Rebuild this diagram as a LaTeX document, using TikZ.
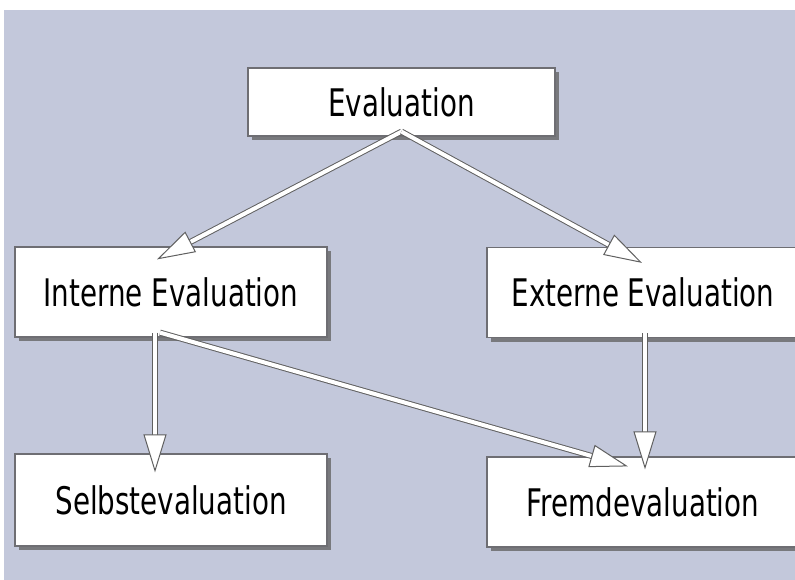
\documentclass[tikz,border=0pt]{standalone}
\usepackage{fontspec}
\setmainfont[FakeStretch=0.73]{DejaVu Sans}
\usetikzlibrary{arrows.meta,shadows}
\definecolor{bgcol}{RGB}{195,200,219}
\definecolor{rimcol}{RGB}{110,110,115}

\begin{document}
\begin{tikzpicture}[x=1pt,y=-1pt,
    box/.style={draw=rimcol, line width=1.2pt, fill=white, minimum width=312pt,
      minimum height=90pt, inner sep=0pt, font=\fontsize{38}{40}\selectfont,
      drop shadow={shadow xshift=4pt, shadow yshift=-4pt, fill=black!60, opacity=0.8}},
    flow/.style={draw=gray!75!black, double=white, double distance=4pt, line width=1pt,
      -{Triangle[length=38pt, width=23pt, fill=white]}}]
      % Background
      \useasboundingbox (0,0) rectangle (795,580);
      \fill[white] (0,0) rectangle (795,580);
      \fill[bgcol] (4,10) rectangle (795,580);
      % Boxes
      \node[box, minimum width=307pt, minimum height=68pt] (eval) at (401.5,102) {Evaluation};
      \node[box] (intern) at (171,292) {Interne Evaluation};
      \node[box] (extern) at (643,292.5) {Externe Evaluation};
      \node[box, minimum height=92pt] (selbst) at (171,500) {Selbstevaluation};
      \node[box] (fremd) at (643,502) {Fremdevaluation};
      % Arrows
      \draw[flow] ([yshift=5pt]eval.south) -- ([xshift=-14pt,yshift=-13pt]intern.north);
      \draw[flow] ([yshift=5pt]eval.south) -- ([xshift=-1pt,yshift=-16pt]extern.north);
      \draw[flow] ([xshift=-16pt,yshift=5pt]intern.south) -- ([xshift=-16pt,yshift=-19pt]selbst.north);
      \draw[flow] ([xshift=-11pt,yshift=5pt]intern.south) -- ([xshift=-15pt,yshift=-10pt]fremd.north);
      \draw[flow] ([xshift=2pt,yshift=5pt]extern.south) -- ([xshift=2pt,yshift=-13pt]fremd.north);
\end{tikzpicture}
\end{document}
